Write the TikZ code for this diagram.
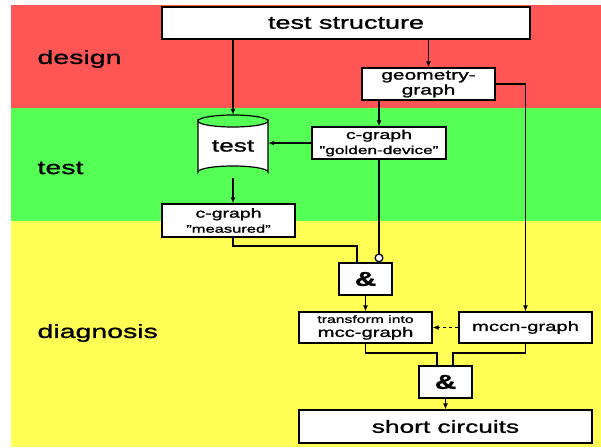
\documentclass[tikz,border=0pt]{standalone}
\usepackage{fontspec}
\setmainfont{Liberation Sans}[FakeStretch=1.5,FakeBold=1.2]
\usetikzlibrary{arrows.meta,calc}
\definecolor{bandred}{HTML}{FF5555}
\definecolor{bandgreen}{HTML}{55FF55}
\definecolor{bandyellow}{HTML}{FFFF55}
\tikzset{
  box/.style={draw=black,line width=1.2pt,fill=white,inner sep=0pt,align=center},
  andbox/.style={box,minimum width=53pt,minimum height=32pt,font=\fontsize{20}{20}\selectfont\bfseries},
  arr/.style={line width=1.3pt,-{Latex[length=6pt,width=5pt]}},
  ln/.style={line width=1.3pt},
  band/.style={font=\fontsize{19}{19}\selectfont,anchor=west}
}
\begin{document}
\begin{tikzpicture}[x=1pt,y=-1pt]
\useasboundingbox (0,0) rectangle (601,447);
\fill[white] (0,0) rectangle (601,447);
\fill[bandred] (11,5) rectangle (601,108);
\fill[bandgreen] (11,108) rectangle (601,221);
\fill[bandyellow] (11,221) rectangle (601,447);
\node[band] (ldesign) at (34,59) {design};
\node[band] (ltest) at (34,168) {test};
\node[band] (ldiag) at (34,333) {diagnosis};
% nodes
\node[box,minimum width=368pt,minimum height=32pt,font=\fontsize{18}{18}\selectfont] (ts) at (346,23) {test structure};
\node[box,minimum width=133pt,minimum height=32pt,font=\fontsize{14}{15}\selectfont] (geo) at (428.5,84) {geometry-\\graph};
\node[box,minimum width=134pt,minimum height=32pt,font=\fontsize{13}{15}\selectfont] (gold) at (379,143) {c-graph\\{\fontsize{11.5}{15}\selectfont "golden-device"}};
% cylinder
\node[minimum width=70pt,minimum height=63pt,inner sep=0pt] (cyl) at (233,146.5) {};
\fill[white,draw=black,line width=1.2pt] (198,121) -- (198,172) arc[start angle=180,end angle=0,x radius=35pt,y radius=6pt] -- (268,121) arc[start angle=0,end angle=-180,x radius=35pt,y radius=6pt] -- cycle;
\draw[line width=1.2pt] (198,121) arc[start angle=180,end angle=0,x radius=35pt,y radius=6pt];
\node[font=\fontsize{17.5}{17.5}\selectfont] (cyltext) at (233,146) {test};
\node[box,minimum width=133pt,minimum height=33pt,font=\fontsize{13}{15}\selectfont] (meas) at (228.5,220.5) {c-graph\\{\fontsize{11}{15}\selectfont "measured"}};
\node[andbox] (and1) at (365.5,279) {\&};
\node[box,minimum width=133pt,minimum height=31pt,font=\fontsize{13.5}{14}\selectfont] (trans) at (365.5,327.5) {{\fontsize{10.5}{14}\selectfont transform into}\\mcc-graph};
\node[box,minimum width=133pt,minimum height=31pt,font=\fontsize{13.5}{13.5}\selectfont] (mccn) at (525.5,327.5) {mccn-graph};
\node[andbox] (and2) at (445.5,382) {\&};
\node[box,minimum width=293pt,minimum height=33pt,font=\fontsize{17.5}{17.5}\selectfont] (sc) at (445.5,426.5) {short circuits};
% coordinates
\coordinate (m1) at (357,246);
\coordinate (j1) at (437,353);
\coordinate (j2) at (453,353);
% connectors
\draw[arr] (ts.south -| cyl.north) -- (cyl.north);
\draw[arr] (ts.south -| geo.north) -- (geo.north);
\draw[arr] (geo.south -| gold.north) -- (gold.north);
\draw[arr] (geo.east) -| (mccn.north);
\draw[arr] (gold.west) -- (gold.west -| cyl.east);
\draw[arr] (cyl.south) -- (cyl.south |- meas.north);
\draw[ln] (cyl.south |- meas.south) |- (m1) -- (m1 |- and1.north);
\draw[line width=1.3pt,-{Circle[open,fill=white,length=9pt,width=9pt]}] (gold.south) -- (gold.south |- and1.north);
\draw[arr] (and1.south) -- (trans.north);
\draw[arr,dashed] (mccn.west) -- (trans.east);
\draw[ln] (trans.south) |- (j1) -- (j1 |- and2.north);
\draw[ln] (mccn.south) |- (j2) -- (j2 |- and2.north);
\draw[arr] (and2.south) -- (sc.north);
\end{tikzpicture}
\end{document}
